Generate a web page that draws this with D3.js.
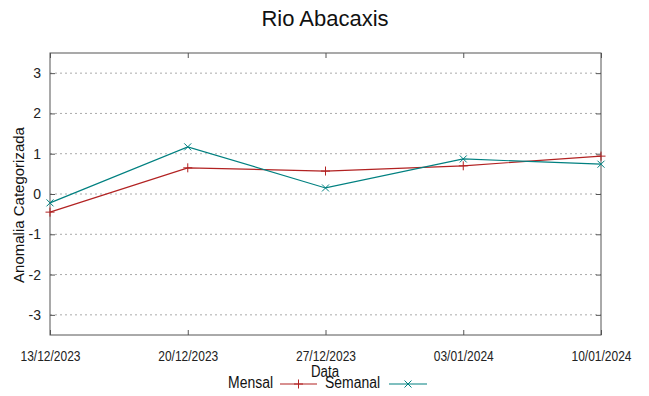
<!DOCTYPE html>
<html>
<head>
<meta charset="utf-8">
<script src="https://cdn.jsdelivr.net/npm/d3@7"></script>
<style>
  body { margin: 0; background: #fff; }
  text { font-family: 'Liberation Sans', Arial, sans-serif; }
</style>
</head>
<body>
<div id="chart"></div>
<script>
const dates = ['13/12/2023', '20/12/2023', '27/12/2023', '03/01/2024', '10/01/2024']
const mensal = [-0.45, 0.65, 0.57, 0.7, 0.94]
const semanal = [-0.22, 1.17, 0.15, 0.87, 0.74]
const yTicks = [-3, -2, -1, 0, 1, 2, 3]

const margin = { top: 53, left: 50, right: 48, bottom: 61 }
const width = 649 - margin.left - margin.right
const height = 396 - margin.top - margin.bottom

const parseTime = d3.timeParse('%d/%m/%Y')

const svgRoot = d3
  .select('#chart')
  .append('svg')
  .attr('width', 649)
  .attr('height', 396)

const svg = svgRoot
  .append('g')
  .attr('transform', 'translate(' + margin.left + ',' + margin.top + ')')

const xPositionScale = d3
  .scaleTime()
  .domain(d3.extent(dates, d => parseTime(d)))
  .range([0, width])
const yPositionScale = d3.scaleLinear().domain([-3.5, 3.5]).range([height, 0])

// grid
svg
  .selectAll('.grid')
  .data(yTicks)
  .enter()
  .append('line')
  .attr('x1', 0)
  .attr('x2', width)
  .attr('y1', d => yPositionScale(d))
  .attr('y2', d => yPositionScale(d))
  .attr('stroke', '#aaa')
  .attr('stroke-dasharray', '2,3')

// y axis (left + mirrored right)
const yAxis = d3
  .axisLeft(yPositionScale)
  .tickValues(yTicks)
  .tickFormat(d => String(d))
  .tickSize(-5)
  .tickPadding(9)
svg
  .append('g')
  .attr('class', 'axis y-axis')
  .call(yAxis)
  .call(g => g.select('.domain').remove())
  .call(g => g.selectAll('line').attr('stroke', '#555'))
  .call(g => g.selectAll('text').attr('font-size', 14).attr('fill', '#222'))

svg
  .append('g')
  .attr('transform', 'translate(' + width + ',0)')
  .call(d3.axisRight(yPositionScale).tickValues(yTicks).tickSize(-5).tickFormat(''))
  .call(g => g.select('.domain').remove())
  .call(g => g.selectAll('line').attr('stroke', '#555'))

// x axis (bottom + mirrored top)
const xAxis = d3
  .axisBottom(xPositionScale)
  .tickValues(dates.map(parseTime))
  .tickFormat(d3.timeFormat('%d/%m/%Y'))
  .tickSize(-5)
  .tickPadding(16)
svg
  .append('g')
  .attr('class', 'axis x-axis')
  .attr('transform', 'translate(0,' + height + ')')
  .call(xAxis)
  .call(g => g.select('.domain').remove())
  .call(g => g.selectAll('line').attr('stroke', '#555'))
  .call(g =>
    g
      .selectAll('text')
      .attr('font-size', 14)
      .attr('fill', '#222')
      .attr('textLength', 60)
      .attr('lengthAdjust', 'spacingAndGlyphs')
  )

svg
  .append('g')
  .call(d3.axisTop(xPositionScale).tickValues(dates.map(parseTime)).tickSize(-5).tickFormat(''))
  .call(g => g.select('.domain').remove())
  .call(g => g.selectAll('line').attr('stroke', '#555'))

// frame
svg
  .append('rect')
  .attr('width', width)
  .attr('height', height)
  .attr('fill', 'none')
  .attr('stroke', '#555')

const series = [
  { name: 'Mensal', values: mensal, color: '#b22222', marker: 'plus' },
  { name: 'Semanal', values: semanal, color: '#008080', marker: 'cross' }
]

const line = d3
  .line()
  .x((d, i) => xPositionScale(parseTime(dates[i])))
  .y(d => yPositionScale(d))

function markerPath(type, x, y, s) {
  if (type === 'plus') {
    return `M${x - s},${y}H${x + s}M${x},${y - s}V${y + s}`
  }
  return `M${x - s},${y - s}L${x + s},${y + s}M${x - s},${y + s}L${x + s},${y - s}`
}

series.forEach(s => {
  svg
    .append('path')
    .attr('d', line(s.values))
    .attr('fill', 'none')
    .attr('stroke', s.color)
    .attr('stroke-width', 1.2)

  svg
    .selectAll('.marker-' + s.name)
    .data(s.values)
    .enter()
    .append('path')
    .attr('d', (d, i) =>
      markerPath(s.marker, xPositionScale(parseTime(dates[i])), yPositionScale(d), s.marker === 'plus' ? 4.5 : 3.5)
    )
    .attr('stroke', s.color)
    .attr('stroke-width', 1)
})

// title
svgRoot
  .append('text')
  .attr('x', 325)
  .attr('y', 26)
  .attr('text-anchor', 'middle')
  .attr('font-size', 22)
  .attr('fill', '#111')
  .text('Rio Abacaxis')

// y label
svgRoot
  .append('text')
  .attr('transform', 'translate(24,205) rotate(-90)')
  .attr('text-anchor', 'middle')
  .attr('font-size', 15)
  .attr('fill', '#111')
  .text('Anomalia Categorizada')

// x label
svgRoot
  .append('text')
  .attr('x', 311)
  .attr('y', 377)
  .attr('font-size', 16)
  .attr('fill', '#111')
  .attr('textLength', 28)
  .attr('lengthAdjust', 'spacingAndGlyphs')
  .text('Data')

// legend
const legend = [
  { name: 'Mensal', textStart: 228, textWidth: 45, x1: 280, x2: 317 },
  { name: 'Semanal', textStart: 325, textWidth: 55, x1: 389, x2: 427 }
]
legend.forEach((l, i) => {
  const s = series[i]
  svgRoot
    .append('text')
    .attr('x', l.textStart)
    .attr('y', 388)
    .attr('font-size', 16)
    .attr('fill', '#111')
    .attr('textLength', l.textWidth)
    .attr('lengthAdjust', 'spacingAndGlyphs')
    .text(l.name)
  svgRoot
    .append('line')
    .attr('x1', l.x1)
    .attr('x2', l.x2)
    .attr('y1', 384)
    .attr('y2', 384)
    .attr('stroke', s.color)
    .attr('stroke-width', 1.2)
  svgRoot
    .append('path')
    .attr('d', markerPath(s.marker, (l.x1 + l.x2) / 2, 384, s.marker === 'plus' ? 4.5 : 3.5))
    .attr('stroke', s.color)
})
</script>
</body>
</html>
